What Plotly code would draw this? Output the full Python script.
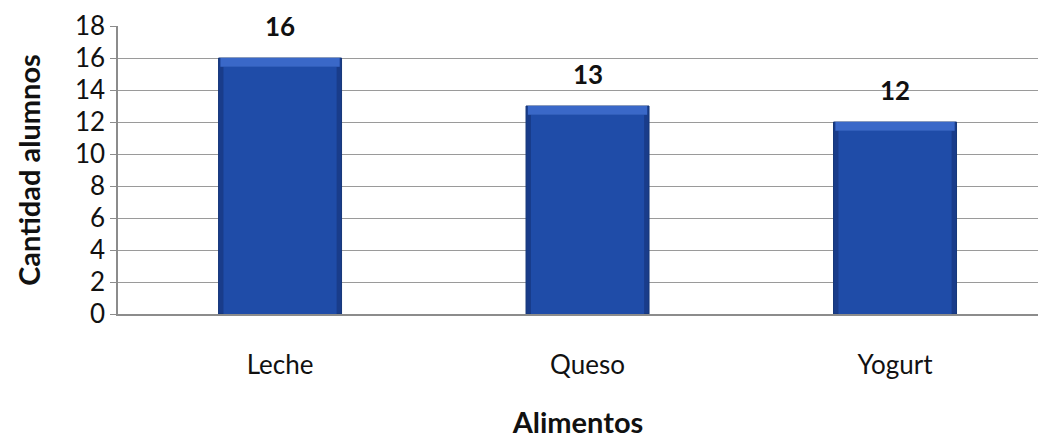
import plotly.graph_objects as go

# Datos
alimentos = ["Leche", "Queso", "Yogurt"]
alumnos = [16, 13, 12]
y_ticks = [0, 2, 4, 6, 8, 10, 12, 14, 16, 18]

FONT = "Lato"
BAR_W = 0.40
BEVEL = 0.55  # alto del bisel superior, en unidades del eje

fig = go.Figure()

# cuerpo de la barra (bordes laterales más oscuros)
fig.add_trace(go.Bar(
    x=alimentos, y=alumnos, width=BAR_W,
    marker=dict(color="#193C8A", line=dict(color="#153679", width=1)),
    hoverinfo="x+y", showlegend=False,
))
# cara frontal
fig.add_trace(go.Bar(
    x=alimentos, y=[v - BEVEL for v in alumnos], width=BAR_W * 0.92,
    marker=dict(color="#1F4CA8", line=dict(width=0)),
    hoverinfo="skip", showlegend=False,
))
# bisel superior más claro
fig.add_trace(go.Bar(
    x=alimentos, y=[BEVEL] * len(alumnos), base=[v - BEVEL for v in alumnos],
    width=BAR_W * 0.97,
    marker=dict(color="#3A68C8", line=dict(width=0)),
    hoverinfo="skip", showlegend=False,
))

# etiquetas de valor
for a, v in zip(alimentos, alumnos):
    fig.add_annotation(
        x=a, y=v, text=f"<b>{v}</b>", showarrow=False,
        yanchor="bottom", yshift=14,
        font=dict(family=FONT, size=26, color="#111111"),
    )

fig.update_layout(
    width=1038, height=439,
    margin=dict(l=118, r=0, t=26, b=125),
    paper_bgcolor="white", plot_bgcolor="white",
    barmode="overlay",
    font=dict(family=FONT, color="#111111"),
)

fig.update_xaxes(
    type="category", range=[-0.527, 2.465],
    tickfont=dict(family=FONT, size=26, color="#111111"),
    ticks="", showgrid=False,
    showline=True, linecolor="#8c8c8c", linewidth=1.5,
    title=dict(text="<b>Alimentos</b>", font=dict(family=FONT, size=29, color="#111111"),
               standoff=34),
    ticklabelstandoff=27,
)
fig.update_yaxes(
    range=[0, 18], tickvals=y_ticks,
    tickfont=dict(family=FONT, size=26, color="#111111"),
    ticks="outside", ticklen=6, tickcolor="#8c8c8c",
    showgrid=True, gridcolor="#9a9a9a", gridwidth=1,
    showline=True, linecolor="#8c8c8c", linewidth=1.5,
    zeroline=False,
    title=dict(text="<b>Cantidad alumnos</b>", font=dict(family=FONT, size=29, color="#111111"),
               standoff=26),
)

fig.write_html("out.html")
